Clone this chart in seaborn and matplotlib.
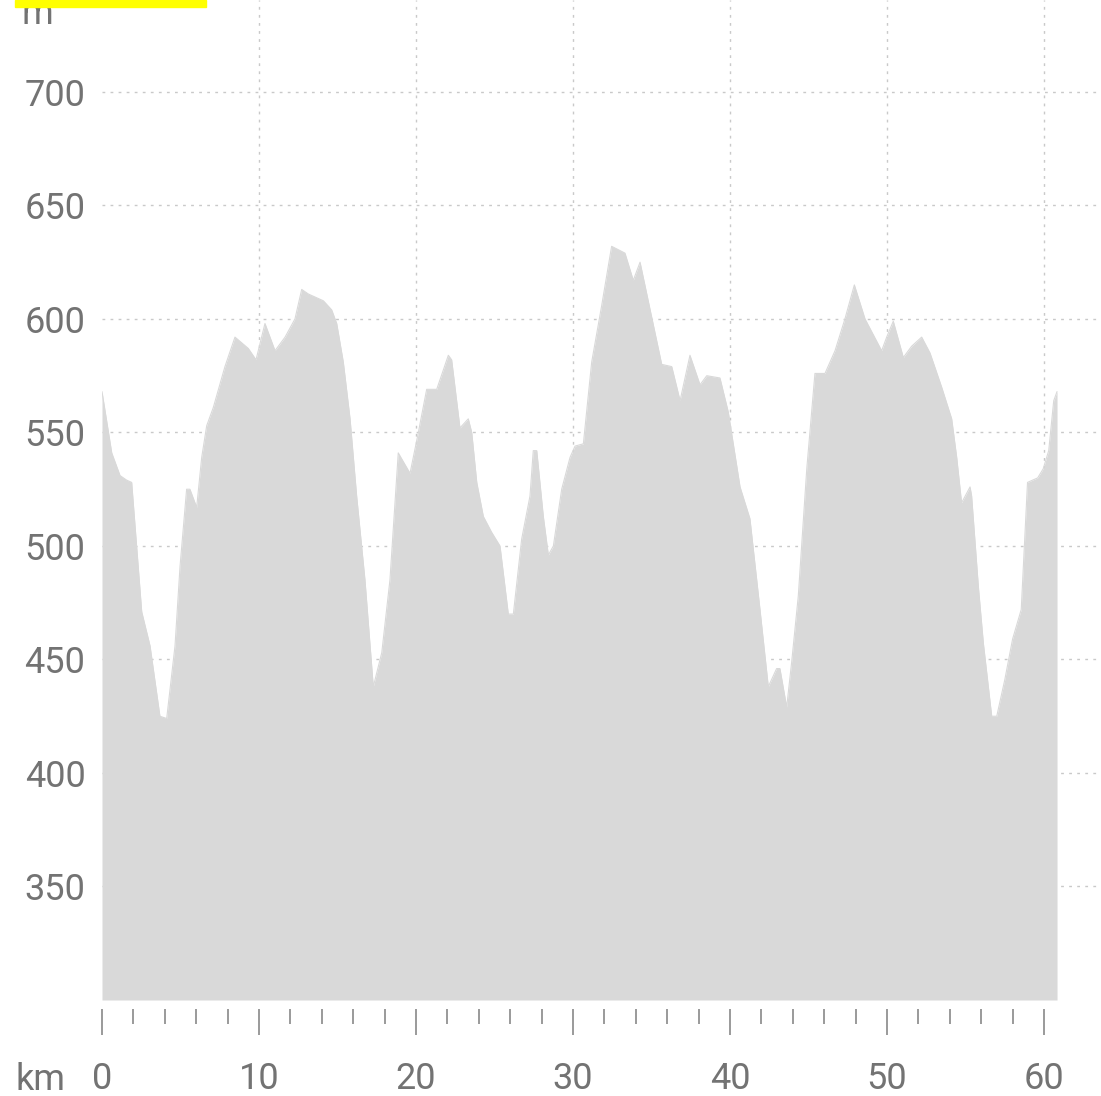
import matplotlib
matplotlib.use("Agg")
import matplotlib.pyplot as plt
import seaborn as sns
import numpy as np
import pandas as pd
from matplotlib.patches import Rectangle
from matplotlib.ticker import FixedLocator

# Elevation profile
distance_km = [
    0.0, 0.62, 1.15, 1.57, 1.89, 2.53, 3.06, 3.69, 4.12, 4.65, 4.97, 5.39, 5.6,
    6.03, 6.35, 6.67, 7.09, 7.83, 8.47, 9.32, 9.81, 10.38, 11.02, 11.66, 12.29,
    12.72, 13.14, 14.1, 14.63, 14.95, 15.37, 15.8, 16.22, 16.75, 17.28, 17.82,
    18.34, 18.87, 19.62, 20.15, 20.68, 21.32, 22.06, 22.27, 22.8, 23.33, 23.55,
    23.87, 24.29, 24.82, 25.35, 25.88, 26.2, 26.73, 27.26, 27.47, 27.69, 28.11,
    28.43, 28.75, 29.28, 29.81, 30.13, 30.66, 31.19, 31.83, 32.46, 33.31, 33.84,
    34.27, 35.65, 36.29, 36.82, 37.45, 38.09, 38.52, 39.36, 39.89, 40.64, 41.27,
    41.91, 42.44, 42.97, 43.18, 43.61, 43.93, 44.35, 44.89, 45.41, 46.05, 46.69,
    47.32, 47.92, 48.6, 49.66, 49.98, 50.4, 51.04, 51.57, 52.21, 52.74, 53.48,
    54.12, 54.44, 54.75, 55.29, 55.39, 55.82, 56.14, 56.67, 56.99, 57.5, 58.0,
    58.55, 58.95, 59.6, 59.95, 60.3, 60.62, 60.83,
]
elevation_m = [
    568, 541, 531, 529, 528, 471, 456, 425, 424, 456, 491, 525, 525,
    517, 539, 553, 561, 579, 592, 587, 582, 598, 586, 592, 600,
    613, 611, 608, 604, 598, 581, 556, 522, 485, 438, 453,
    485, 541, 532, 550, 569, 569, 584, 582, 552, 556, 550,
    528, 513, 506, 500, 470, 470, 503, 522, 542, 542, 513,
    496, 500, 525, 539, 544, 545, 581, 606, 632, 629, 617,
    625, 580, 579, 564, 584, 571, 575, 574, 559, 526, 512,
    472, 438, 446, 446, 429, 449, 478, 534, 576, 576, 586,
    600, 615, 600, 586, 592, 599, 583, 588, 592, 585, 570,
    556, 539, 519, 526, 522, 482, 457, 425, 425, 441, 459,
    472, 528, 530, 534, 542, 564, 568,
]
y_ticks = [350, 400, 450, 500, 550, 600, 650, 700]
x_major = [0, 10, 20, 30, 40, 50, 60]
x_minor = [k for k in range(0, 61, 2) if k % 10]

df = pd.DataFrame({"km": distance_km, "elev": elevation_m})

sns.set_theme(style="white")
plt.rcParams["font.family"] = ["Roboto", "DejaVu Sans"]

fill_color = "#d9d9d9"
text_color = "#737373"
grid_color = "#c9c9c9"

fig = plt.figure(figsize=(11.01, 10.96), dpi=100)
ax = fig.add_axes([102 / 1101, 96 / 1096, 999 / 1101, 1000 / 1096])

ax.fill_between(df["km"], df["elev"], 300, color=fill_color, lw=0, zorder=2)
sns.lineplot(data=df, x="km", y="elev", ax=ax, color=fill_color, lw=0.8, zorder=2)

ax.set_xlim(0, 999 / 15.7)
ax.set_ylim(300, 740.5)

ax.set_yticks(y_ticks)
ax.xaxis.set_major_locator(FixedLocator(x_major))
ax.xaxis.set_minor_locator(FixedLocator(x_minor))
ax.set_xlabel("")
ax.set_ylabel("")

for s in ax.spines.values():
    s.set_visible(False)
ax.spines["bottom"].set_position(("outward", 6.5))

ax.set_axisbelow(True)
ax.grid(True, which="major", color=grid_color, lw=1.0, linestyle=(0, (2, 3.8)))
ax.get_xgridlines()[0].set_visible(False)

ax.tick_params(axis="y", length=0, pad=12, labelsize=26, labelcolor=text_color)
ax.tick_params(axis="x", which="major", bottom=True, direction="out", length=18.5,
               width=1.4, color="#9a9a9a", pad=19, labelsize=26, labelcolor=text_color)
ax.tick_params(axis="x", which="minor", bottom=True, direction="out", length=11,
               width=1.4, color="#9a9a9a")

# unit labels
fig.text(15 / 1101, 6 / 1096, "km", fontsize=26, color=text_color, va="baseline", ha="left")
fig.text(21 / 1101, (1096 - 24) / 1096, "m", fontsize=26, color=text_color,
         va="baseline", ha="left")
fig.patches.append(Rectangle((15 / 1101, 1 - 7 / 1096), 191 / 1101, 7 / 1096,
                             transform=fig.transFigure, color="#ffff00", zorder=5))

fig.savefig("out.png", dpi=100)
